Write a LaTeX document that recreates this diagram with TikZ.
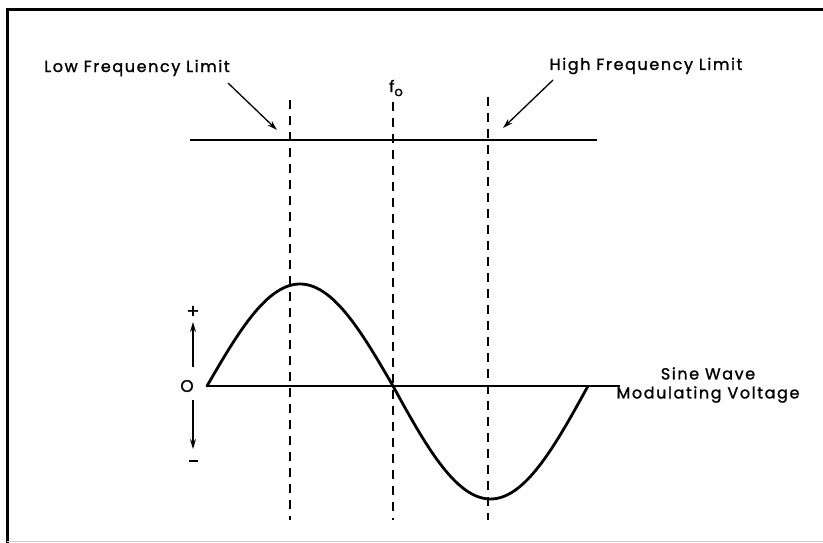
\documentclass[tikz,border=0pt]{standalone}
\usepackage{fontspec}
\setmainfont{Poppins}
\newfontfamily\lblfont[LetterSpace=10,FakeBold=1.3]{Poppins}
\usetikzlibrary{arrows.meta}
\tikzset{
  lbl/.style={inner sep=0pt, font=\lblfont\fontsize{16}{19}\selectfont},
  dashv/.style={line width=1.3pt, dash pattern=on 9pt off 7pt},
  thinline/.style={line width=1.4pt},
  wave/.style={line width=2.8pt, line cap=round, line join=round},
  arr/.style={line width=1.3pt, -{Stealth[length=10pt,width=6pt]}},
  frame/.style={line width=3pt}
}
\begin{document}
\begin{tikzpicture}[x=1pt,y=-1pt]
\useasboundingbox (0,0) rectangle (823,543);
% frame
\coordinate (fl) at (7,543); \coordinate (ftl) at (7,10); \coordinate (ftr) at (823,10);
\draw[frame] (fl) -- (ftl) -- (ftr);
\coordinate (fb1) at (7,541); \coordinate (fb2) at (823,541);
\draw[gray!40, line width=1pt] (fb1) -- (fb2);
% top horizontal line
\coordinate (hl) at (190,140); \coordinate (hr) at (597,140);
\draw[thinline] (hl) -- (hr);
% dashed verticals
\coordinate (d1t) at (290,100); \coordinate (d1b) at (290,520);
\coordinate (d2t) at (393,102); \coordinate (d2b) at (393,520);
\coordinate (d3t) at (488,97);  \coordinate (d3b) at (488,520);
\draw[dashv] (d1t) -- (d1b);
\draw[dashv] (d2t) -- (d2b);
\draw[dashv] (d3t) -- (d3b);
% axis
\coordinate (a0) at (207,386); \coordinate (a1) at (620,386);
\draw[thinline] (a0) -- (a1);
% sine wave
\draw[wave] plot[domain=0:1, samples=60] ({207+186*\x},{386-102*sin(180*\x)})
  -- plot[domain=0:1, samples=60] ({393+195*\x},{386+113*sin(180*\x)});
% labels
\node[lbl] (low) at (137,68) {Low Frequency Limit};
\node[lbl] (high) at (646,66) {High Frequency Limit};
\node[lbl] (f0) at (396,88) {f\raisebox{-4pt}{\fontsize{13}{13}\selectfont o}};
\node[lbl, align=center] (sine) at (708,385) {Sine Wave\\Modulating Voltage};
\node[lbl, font=\lblfont\fontsize{17}{17}\selectfont] (zero) at (187,386) {O};
\node[lbl, font=\lblfont\fontsize{19}{19}\selectfont] (plus) at (193,312) {+};
\node[lbl] (minus) at (193,461) {\rule{9pt}{1.6pt}};
% arrows
\coordinate (la1) at (228,83); \coordinate (la2) at (277,130);
\draw[arr] (la1) -- (la2);
\coordinate (ha1) at (553,80); \coordinate (ha2) at (503,128);
\draw[arr] (ha1) -- (ha2);
\coordinate (up1) at (193,367); \coordinate (up2) at (193,322);
\draw[arr] (up1) -- (up2);
\coordinate (dn1) at (193,400); \coordinate (dn2) at (193,449);
\draw[arr] (dn1) -- (dn2);
\end{tikzpicture}
\end{document}
